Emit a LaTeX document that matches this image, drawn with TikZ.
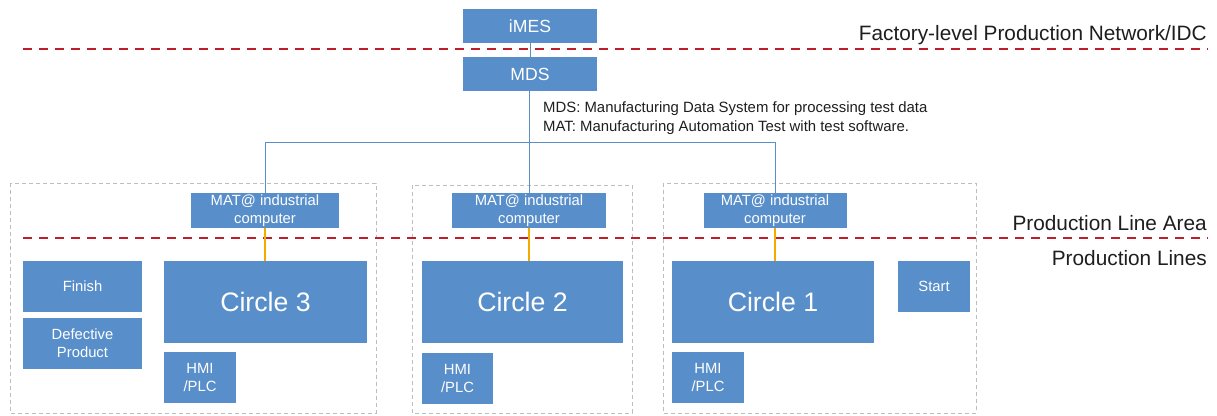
\documentclass[tikz,border=0pt]{standalone}
\usepackage{fontspec}
\setmainfont{Liberation Sans}

\definecolor{boxblue}{RGB}{88,142,201}
\definecolor{zonered}{RGB}{190,30,42}
\definecolor{areagray}{RGB}{190,190,190}
\definecolor{feedgold}{RGB}{245,170,0}
\definecolor{tagtext}{RGB}{30,30,30}

\begin{document}
\begin{tikzpicture}[x=1pt, y=-1pt,
        block/.style={fill=boxblue, text=white, inner sep=0pt, align=center},
        small/.style={font=\fontsize{14.8}{18}\selectfont},
        big/.style={font=\fontsize{26.7}{30}\selectfont},
        zone/.style={zonered, line width=2.6pt, dash pattern=on 9pt off 7pt},
        area/.style={areagray, line width=0.9pt, dash pattern=on 4pt off 3pt},
        bus/.style={boxblue, line width=1pt},
        feed/.style={feedgold, line width=1.1pt},
        tag/.style={anchor=base east, inner sep=0pt, text=tagtext, font=\fontsize{20.8}{24}\selectfont},
        note/.style={anchor=base west, inner sep=0pt, text=tagtext, font=\fontsize{14.9}{18}\selectfont}]
    \useasboundingbox (0,0) rectangle (1217,415);

    % production line areas
    \draw[area] (10,183)  rectangle (376,413);
    \draw[area] (412,185) rectangle (632,413);
    \draw[area] (663,183) rectangle (976,413);

    % network levels
    \draw[zone] (23,49)  -- (1208,49);
    \draw[zone] (23,238) -- (1208,238);
    \node[tag] (lvlF) at (1207,40.5) {Factory-level Production Network/IDC};
    \node[tag] (lvlA) at (1207,230)  {Production Line Area};
    \node[tag] (lvlL) at (1207,265)  {Production Lines};

    % servers
    \node[block, minimum width=134pt, minimum height=34pt, font=\fontsize{17.6}{20}\selectfont] (imes) at (530,26) {iMES};
    \node[block, minimum width=134pt, minimum height=34pt, font=\fontsize{17.6}{20}\selectfont] (mds)  at (530,74) {MDS};
    \node[note] (noteMDS) at (543,112) {MDS: Manufacturing Data System for processing test data};
    \node[note] (noteMAT) at (543,131) {MAT: Manufacturing Automation Test with test software.};

    % industrial computers
    \node[block, small, minimum width=148pt, minimum height=35pt] (mat3) at (265,210.5) {MAT@ industrial\\computer};
    \node[block, small, minimum width=154pt, minimum height=35pt] (mat2) at (529,210.5) {MAT@ industrial\\computer};
    \node[block, small, minimum width=143pt, minimum height=35pt] (mat1) at (775,210.5) {MAT@ industrial\\computer};

    % circles
    \node[block, big, minimum width=203pt, minimum height=82pt] (circ3) at (265.5,302) {Circle 3};
    \node[block, big, minimum width=201pt, minimum height=82pt] (circ2) at (522.5,302) {Circle 2};
    \node[block, big, minimum width=202pt, minimum height=82pt] (circ1) at (773,302)   {Circle 1};

    \node[block, small, minimum width=119pt, minimum height=51pt] (finish) at (82.5,286.5) {Finish};
    \node[block, small, minimum width=119pt, minimum height=51pt] (defect) at (82.5,343.5) {Defective\\Product};
    \node[block, small, minimum width=72pt,  minimum height=51pt] (start)  at (934,286.5)  {Start};

    \node[block, small, minimum width=72pt, minimum height=51pt] (hmi3) at (200,377.5)   {HMI\\/PLC};
    \node[block, small, minimum width=71pt, minimum height=51pt] (hmi2) at (457.5,378.5) {HMI\\/PLC};
    \node[block, small, minimum width=72pt, minimum height=51pt] (hmi1) at (708,377.5)   {HMI\\/PLC};

    % links
    \coordinate (junction) at (529,142);
    \draw[bus] (imes) -- (mds);
    \draw[bus] (mds.south -| junction) -- (mat2.north);
    \draw[bus] (mat3.north) |- (junction);
    \draw[bus] (mat1.north) |- (junction);
    \draw[feed] (mat3.south) -- (mat3.south |- circ3.north);
    \draw[feed] (mat2.south) -- (mat2.south |- circ2.north);
    \draw[feed] (mat1.south) -- (mat1.south |- circ1.north);
\end{tikzpicture}
\end{document}
